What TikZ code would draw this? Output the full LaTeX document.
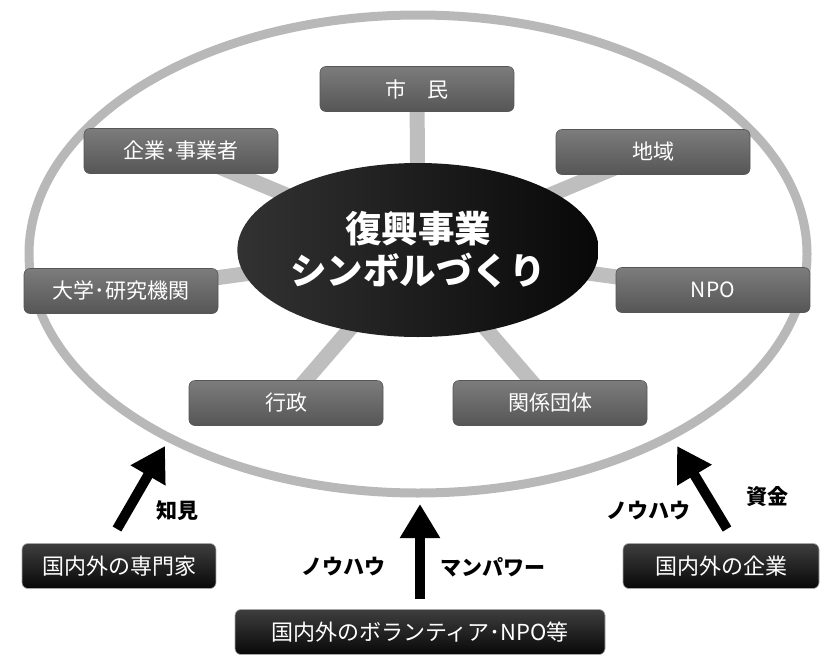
\documentclass[tikz,border=0pt]{standalone}
\usepackage{fontspec}
\setmainfont{Noto Sans CJK JP}
\usetikzlibrary{arrows.meta,backgrounds,shapes.geometric}
\definecolor{ring}{RGB}{184,184,184}
\definecolor{conn}{RGB}{190,190,190}
\definecolor{boxtop}{RGB}{124,124,124}
\definecolor{boxbot}{RGB}{86,86,86}
\definecolor{blktop}{RGB}{62,62,62}
\definecolor{blkbot}{RGB}{8,8,8}
\definecolor{ellleft}{RGB}{50,50,50}
\definecolor{ellright}{RGB}{8,8,8}
\tikzset{
  graybox/.style={rectangle, rounded corners=6pt, minimum width=194pt, minimum height=45pt,
    top color=boxtop, bottom color=boxbot, draw=boxbot, line width=0.6pt,
    text=white, font=\fontsize{21}{24}\selectfont, inner sep=0pt},
  blackbox/.style={rectangle, rounded corners=6pt, minimum height=45pt,
    top color=blktop, bottom color=blkbot, draw=gray!70, line width=0.6pt,
    text=white, font=\fontsize{22}{26}\selectfont, inner sep=0pt},
  connector/.style={conn, line width=15pt},
  bigarrow/.style={line width=10pt, -{Triangle[width=38pt,length=34pt]}},
  lbl/.style={font=\bfseries\fontsize{21}{24}\selectfont, inner sep=0pt}
}
\begin{document}
\begin{tikzpicture}[x=1pt,y=-1pt]
\useasboundingbox (0,0) rectangle (830,667);
% outer ring
\draw[ring, line width=9pt] (418,254) ellipse [x radius=389, y radius=239];
% centre
\node[ellipse, minimum width=357pt, minimum height=174pt, inner sep=0pt,
      left color=ellleft, right color=ellright,
      text=white, font=\bfseries\fontsize{36.5}{42}\selectfont, align=center]
      (center) at (418,250) {復興事業\\シンボルづくり};
% members
\node[graybox] (shimin) at (417,89) {市　民};
\node[graybox] (kigyo) at (181,151) {企業･事業者};
\node[graybox] (chiiki) at (653,152) {地域};
\node[graybox] (daigaku) at (121,291) {大学･研究機関};
\node[graybox] (npo) at (713,290) {NPO};
\node[graybox] (gyosei) at (286,403) {行政};
\node[graybox] (kankei) at (550,403) {関係団体};
\begin{scope}[on background layer]
\foreach \b in {shimin,kigyo,chiiki,daigaku,npo,gyosei,kankei}
  \draw[connector] (center.center) -- (\b.center);
\end{scope}
% external actors
\node[blackbox, minimum width=194pt] (senmon) at (119,566) {国内外の専門家};
\node[blackbox, minimum width=196pt] (kigyogai) at (721,566) {国内外の企業};
\node[blackbox, minimum width=370pt] (volunteer) at (420,632) {国内外のボランティア･NPO等};
% arrows
\coordinate (lt) at (117,529);
\coordinate (lh) at (165,446);
\coordinate (rt) at (727,529);
\coordinate (rh) at (677,446);
\coordinate (mt) at (420,599);
\coordinate (mh) at (420,504);
\draw[bigarrow] (lt) -- (lh);
\draw[bigarrow] (rt) -- (rh);
\draw[bigarrow] (mt) -- (mh);
% labels
\node[lbl] (chiken) at (177,511) {知見};
\node[lbl] (knowr) at (648,511) {ノウハウ};
\node[lbl] (shikin) at (767,497) {資金};
\node[lbl] (knowm) at (343,567) {ノウハウ};
\node[lbl] (manpower) at (493,567) {マンパワー};
\end{tikzpicture}
\end{document}
